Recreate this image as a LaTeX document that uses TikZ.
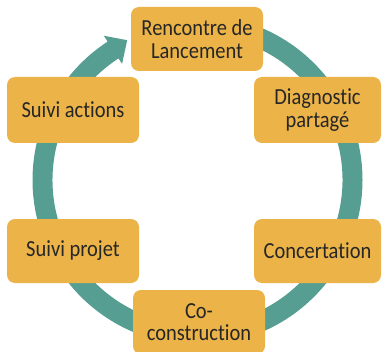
\documentclass[tikz,border=0pt]{standalone}
\usepackage{fontspec}
\setmainfont[FakeStretch=0.89,Ligatures=NoCommon]{Carlito}
\definecolor{boxgold}{HTML}{ECB448}
\definecolor{ringteal}{HTML}{569E92}
\definecolor{txt}{HTML}{262626}
\begin{document}
\begin{tikzpicture}[x=1pt,y=1pt,
  stepbox/.style={fill=boxgold, rounded corners=8pt, text=txt, align=center,
    font=\fontsize{23}{22.7}\selectfont, inner sep=0pt, minimum height=64pt},
  ring/.style={fill=ringteal}]
\useasboundingbox (0,0) rectangle (382,351);
\clip (0,0) rectangle (382,351);
\begin{scope}[shift={(197.5,171)}]
\fill[ring] (90:165pt) arc[start angle=90, end angle=-237, radius=165pt]
  -- (123:172pt) -- (116.7:156.5pt) -- (123:138.5pt) -- (123:145pt)
  arc[start angle=-237, end angle=90, radius=145pt] -- cycle;
\end{scope}
\node[stepbox, minimum width=132pt] (lanc) at (197,312) {Rencontre de\\Lancement};
\node[stepbox, minimum width=127pt, minimum height=66pt] (diag) at (317.5,241) {Diagnostic\\partagé};
\node[stepbox, minimum width=127pt] (conc) at (317.5,100) {Concertation};
\node[stepbox, minimum width=132pt] (cocon) at (199,29) {Co-\\construction};
\node[stepbox, minimum width=132pt] (sproj) at (73,100) {Suivi projet};
\node[stepbox, minimum width=132pt, minimum height=66pt] (sact) at (73,241) {Suivi actions};
\end{tikzpicture}
\end{document}
